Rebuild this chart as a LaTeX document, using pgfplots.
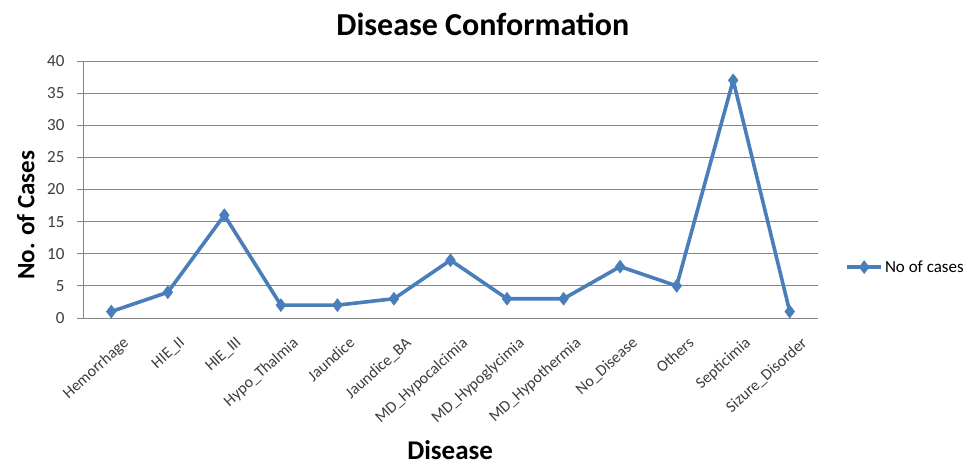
\documentclass[border=0pt]{standalone}
\usepackage{fontspec}
\setmainfont{Carlito}
\usepackage{pgfplots}
\pgfplotsset{compat=1.18}
\definecolor{xlblue}{RGB}{74,126,187}
\definecolor{gridgray}{RGB}{134,134,134}
\definecolor{ticktext}{RGB}{60,60,60}

\begin{document}
\begin{tikzpicture}[x=1pt,y=1pt]
\begin{axis}[
    at={(0,0)}, anchor=south west,
    scale only axis, width=735pt, height=257pt,
    xmin=-0.5, xmax=12.5, ymin=0, ymax=40,
    xtick={0,...,12},
    xticklabels={Hemorrhage, HIE\_II, HIE\_III, Hypo\_Thalmia, Jaundice, Jaundice\_BA,
      MD\_Hypocalcimia, MD\_Hypoglycimia, MD\_Hypothermia, No\_Disease, Others,
      Septicimia, Sizure\_Disorder},
    ytick={0,5,...,40},
    ymajorgrids,
    major grid style={gridgray, line width=0.8pt},
    axis x line*=bottom, axis y line*=left,
    axis line style={gridgray, line width=0.8pt},
    xtick style={draw=none},
    ytick style={gridgray, line width=0.8pt},
    tick align=outside, major tick length=6pt,
    tick label style={text=ticktext},
    xticklabel style={font=\fontsize{16}{18}\selectfont, rotate=42, anchor=north east,
      inner sep=1pt, yshift=-15pt, xshift=1pt},
    yticklabel style={font=\fontsize{17}{19}\selectfont, xshift=-9pt},
    /pgf/number format/assume math mode=true,
    title={Disease Conformation},
    title style={at={(axis description cs:0.544,1.12)}, anchor=center,
      font=\fontsize{32}{36}\selectfont\bfseries},
    ylabel={No. of Cases},
    ylabel style={at={(axis description cs:-0.078,0.40)}, anchor=center,
      font=\fontsize{25}{28}\selectfont\bfseries},
    xlabel={Disease},
    xlabel style={at={(axis description cs:0.4995,-0.514)}, anchor=center, inner sep=1pt,
      font=\fontsize{27}{30}\selectfont\bfseries},
    legend style={at={(axis description cs:1.037,0.198)}, anchor=west, draw=none,
      font=\fontsize{17}{19}\selectfont, inner sep=0pt},
    legend cell align=left,
    legend image code/.code={
      \draw[mark repeat=2,mark phase=2] plot coordinates {(0pt,0pt)(17pt,0pt)(34pt,0pt)};},
]
\addplot[color=xlblue, line width=3.6pt, line join=round,
    mark=diamond*, mark size=6.5pt, mark options={fill=xlblue, line width=0.5pt}]
  coordinates {
(0,1)
(1,4)
(2,16)
(3,2)
(4,2)
(5,3)
(6,9)
(7,3)
(8,3)
(9,8)
(10,5)
(11,37)
(12,1)
};
\addlegendentry{No of cases}
\end{axis}
\pgfresetboundingbox
\path[use as bounding box] (-83,-147) rectangle (883,318);
\end{tikzpicture}
\end{document}
